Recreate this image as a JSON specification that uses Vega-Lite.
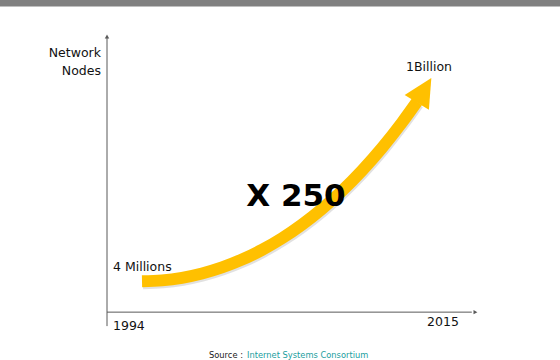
{
  "$schema": "https://vega.github.io/schema/vega-lite/v6.json",
  "width": 560,
  "height": 360,
  "autosize": {"type": "fit", "contains": "padding"},
  "padding": 0,
  "background": "white",
  "config": {"view": {"stroke": null}},
  "datasets": {
    "curve": [
      {"x": 1994.143, "y": 1.3},
      {"x": 1995.571, "y": 5.5},
      {"x": 1997.0, "y": 18.1},
      {"x": 1998.429, "y": 39.1},
      {"x": 1999.857, "y": 68.8},
      {"x": 2001.286, "y": 107.3},
      {"x": 2002.714, "y": 155.0},
      {"x": 2004.143, "y": 212.1},
      {"x": 2005.571, "y": 279.0},
      {"x": 2007.0, "y": 356.3},
      {"x": 2008.429, "y": 444.3},
      {"x": 2009.857, "y": 543.8},
      {"x": 2011.286, "y": 655.2},
      {"x": 2012.714, "y": 779.4},
      {"x": 2013.786, "y": 881.4}
    ]
  },
  "encoding": {
    "x": {"field": "x", "type": "quantitative", "axis": null, "scale": {"domain": [1984, 2024], "nice": false, "zero": false}},
    "y": {"field": "y", "type": "quantitative", "axis": null, "scale": {"domain": [-380, 1380], "nice": false, "zero": false}}
  },
  "layer": [
    {
      "data": {"values": [{"x": 1984, "x2": 2024, "y": 1348, "y2": 1380}]},
      "mark": {"type": "rect", "color": "#808080"},
      "encoding": {"x2": {"field": "x2"}, "y2": {"field": "y2"}}
    },
    {
      "data": {"values": [
        {"x": 1991.643, "x2": 1991.643, "y": -218.7, "y2": 1194},
        {"x": 1991.643, "x2": 2017.7, "y": -150.2, "y2": -150.2}
      ]},
      "mark": {"type": "rule", "color": "#595959", "strokeWidth": 1},
      "encoding": {"x2": {"field": "x2"}, "y2": {"field": "y2"}}
    },
    {
      "data": {"values": [{"x": 1991.643, "y": 1201}]},
      "mark": {"type": "point", "shape": "triangle-up", "filled": true, "size": 20, "color": "#595959", "opacity": 1}
    },
    {
      "data": {"values": [{"x": 2017.96, "y": -150.2}]},
      "mark": {"type": "point", "shape": "triangle-right", "filled": true, "size": 20, "color": "#595959", "opacity": 1}
    },
    {
      "data": {"name": "curve"},
      "mark": {"type": "line", "color": "#9a9a9a", "opacity": 0.3, "strokeWidth": 12, "strokeCap": "butt", "interpolate": "monotone", "xOffset": 1, "yOffset": 2}
    },
    {
      "data": {"name": "curve"},
      "mark": {"type": "line", "color": "#FFC000", "strokeWidth": 12, "strokeCap": "butt", "interpolate": "monotone"}
    },
    {
      "data": {"values": [{"x": 2014.29, "y": 937.6}]},
      "mark": {"type": "point", "shape": "M0,-1L-1,1L1,1Z", "filled": true, "size": 800, "color": "#FFC000", "opacity": 1, "angle": 31}
    },
    {
      "data": {"values": [{"x": 2005.14, "y": 412.0, "label": "X 250"}]},
      "mark": {"type": "text", "font": "DejaVu Sans", "fontWeight": "bold", "fontSize": 31, "align": "center", "baseline": "middle", "color": "#000000"},
      "encoding": {"text": {"field": "label"}}
    },
    {
      "data": {"values": [
        {"x": 1992.07, "y": 69.8, "label": "4 Millions"},
        {"x": 1992.07, "y": -218.7, "label": "1994"}
      ]},
      "mark": {"type": "text", "font": "DejaVu Sans", "fontSize": 12.5, "align": "left", "baseline": "middle", "color": "#111111"},
      "encoding": {"text": {"field": "label"}}
    },
    {
      "data": {"values": [
        {"x": 1991.21, "y": 1120, "label": "Network"},
        {"x": 1991.21, "y": 1032, "label": "Nodes"}
      ]},
      "mark": {"type": "text", "font": "DejaVu Sans", "fontSize": 12.5, "align": "right", "baseline": "middle", "color": "#111111"},
      "encoding": {"text": {"field": "label"}}
    },
    {
      "data": {"values": [
        {"x": 2014.64, "y": 1052.4, "label": "1Billion"},
        {"x": 2015.64, "y": -199.1, "label": "2015"}
      ]},
      "mark": {"type": "text", "font": "DejaVu Sans", "fontSize": 12.5, "align": "center", "baseline": "middle", "color": "#111111"},
      "encoding": {"text": {"field": "label"}}
    },
    {
      "data": {"values": [{"x": 1998.93, "y": -365.3, "label": "Source :"}]},
      "mark": {"type": "text", "font": "DejaVu Sans", "fontSize": 8.3, "align": "left", "baseline": "middle", "color": "#222222"},
      "encoding": {"text": {"field": "label"}}
    },
    {
      "data": {"values": [{"x": 2001.64, "y": -365.3, "label": "Internet Systems Consortium"}]},
      "mark": {"type": "text", "font": "DejaVu Sans", "fontSize": 8.3, "align": "left", "baseline": "middle", "color": "#1A9E9E"},
      "encoding": {"text": {"field": "label"}}
    }
  ]
}
